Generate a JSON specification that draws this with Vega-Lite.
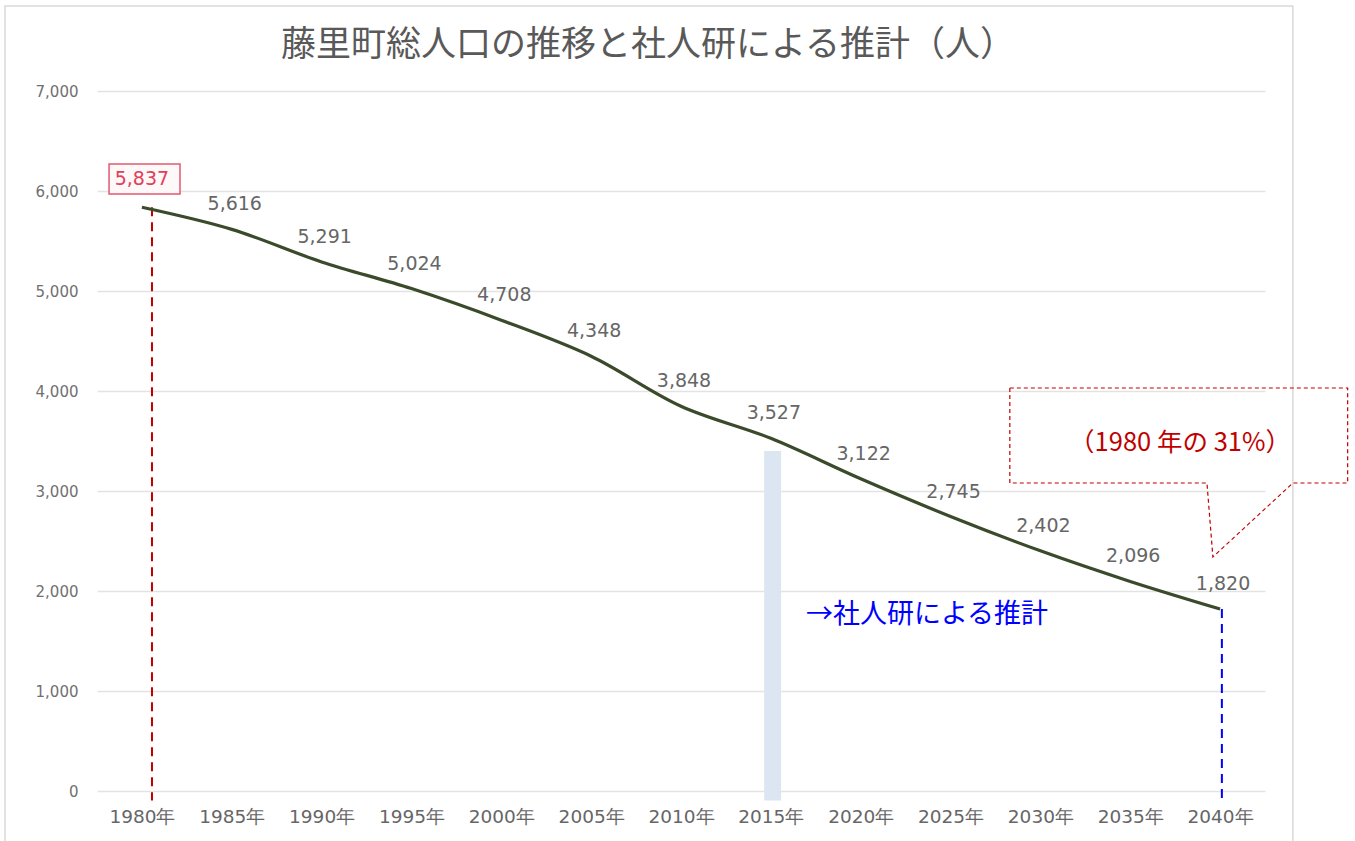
{
  "$schema": "https://vega.github.io/schema/vega-lite/v6.json",
  "width": 1168,
  "height": 700,
  "autosize": "none",
  "padding": {"left": 97, "top": 91, "right": 90, "bottom": 50},
  "background": "white",
  "config": {
    "view": {"stroke": null},
    "font": "DejaVu Sans"
  },
  "title": {
    "text": "藤里町総人口の推移と社人研による推計（人）",
    "fontSize": 35,
    "fontWeight": "normal",
    "color": "#595959",
    "font": "Noto Sans CJK JP",
    "anchor": "middle",
    "dx": -33,
    "offset": -58
  },
  "datasets": {
    "pop": [
      {"year": 1980, "pop": 5837},
      {"year": 1985, "pop": 5616},
      {"year": 1990, "pop": 5291},
      {"year": 1995, "pop": 5024},
      {"year": 2000, "pop": 4708},
      {"year": 2005, "pop": 4348},
      {"year": 2010, "pop": 3848},
      {"year": 2015, "pop": 3527},
      {"year": 2020, "pop": 3122},
      {"year": 2025, "pop": 2745},
      {"year": 2030, "pop": 2402},
      {"year": 2035, "pop": 2096},
      {"year": 2040, "pop": 1820}
    ],
    "callout": [
      {"o": 1, "x": 2028.3, "y": 4030},
      {"o": 2, "x": 2047.1, "y": 4030},
      {"o": 3, "x": 2047.1, "y": 3080},
      {"o": 4, "x": 2044.05, "y": 3080},
      {"o": 5, "x": 2039.6, "y": 2340},
      {"o": 6, "x": 2039.27, "y": 3080},
      {"o": 7, "x": 2028.3, "y": 3080},
      {"o": 8, "x": 2028.3, "y": 4030}
    ]
  },
  "layer": [
    {
      "data": {"values": [{"x1": 1972.38, "x2": 2044.05, "y1": 7850, "y2": -700}]},
      "mark": {"type": "rect", "fill": null, "stroke": "#d9d9d9", "strokeWidth": 1.5, "clip": false},
      "encoding": {
        "x": {
          "field": "x1",
          "type": "quantitative",
          "scale": {"domain": [1977.5, 2042.5], "nice": false, "zero": false},
          "axis": {
            "values": [1980, 1985, 1990, 1995, 2000, 2005, 2010, 2015, 2020, 2025, 2030, 2035, 2040],
            "labelExpr": "datum.value + '年'",
            "title": null,
            "grid": false,
            "domain": false,
            "ticks": false,
            "labelFlush": false,
            "labelOverlap": false,
            "labelPadding": 16,
            "labelFontSize": 18.5,
            "labelColor": "#666666",
            "labelFont": "DejaVu Sans"
          }
        },
        "x2": {"field": "x2"},
        "y": {
          "field": "y1",
          "type": "quantitative",
          "scale": {"domain": [0, 7000], "nice": false},
          "axis": {
            "values": [0, 1000, 2000, 3000, 4000, 5000, 6000, 7000],
            "labelExpr": "format(datum.value, ',')",
            "title": null,
            "domain": false,
            "ticks": false,
            "grid": true,
            "gridColor": "#e3e3e3",
            "gridWidth": 1.5,
            "labelPadding": 19,
            "labelFontSize": 15,
            "labelColor": "#707070",
            "labelFont": "DejaVu Sans"
          }
        },
        "y2": {"field": "y2"}
      }
    },
    {
      "data": {"values": [{"x": 2015.1, "y": 3400, "y2": -95}]},
      "mark": {"type": "rule", "color": "#dce6f2", "strokeWidth": 17, "clip": false},
      "encoding": {
        "x": {"field": "x", "type": "quantitative"},
        "y": {"field": "y", "type": "quantitative"},
        "y2": {"field": "y2"}
      }
    },
    {
      "data": {"values": [{"x": 1980.56, "y": 5837, "y2": -95}]},
      "mark": {"type": "rule", "color": "#c00000", "strokeWidth": 2, "strokeDash": [9, 6], "clip": false},
      "encoding": {
        "x": {"field": "x", "type": "quantitative"},
        "y": {"field": "y", "type": "quantitative"},
        "y2": {"field": "y2"}
      }
    },
    {
      "data": {"values": [{"x": 2040.1, "y": 1820, "y2": -95}]},
      "mark": {"type": "rule", "color": "#0000ff", "strokeWidth": 2, "strokeDash": [9, 6], "clip": false},
      "encoding": {
        "x": {"field": "x", "type": "quantitative"},
        "y": {"field": "y", "type": "quantitative"},
        "y2": {"field": "y2"}
      }
    },
    {
      "data": {"name": "pop"},
      "mark": {"type": "line", "color": "#3a4a2a", "strokeWidth": 3.2, "interpolate": "catmull-rom"},
      "encoding": {
        "x": {"field": "year", "type": "quantitative"},
        "y": {"field": "pop", "type": "quantitative"}
      }
    },
    {
      "data": {"name": "pop"},
      "transform": [{"filter": "datum.year > 1980"}],
      "mark": {"type": "text", "dy": -25, "dx": 3, "fontSize": 19, "color": "#666666", "font": "DejaVu Sans"},
      "encoding": {
        "x": {"field": "year", "type": "quantitative"},
        "y": {"field": "pop", "type": "quantitative"},
        "text": {"field": "pop", "type": "quantitative", "format": ","}
      }
    },
    {
      "data": {"values": [{"x1": 1978.17, "x2": 1982.12, "y1": 6270, "y2": 5970}]},
      "mark": {"type": "rect", "fill": "#fff8f9", "stroke": "#e05a70", "strokeWidth": 1.5},
      "encoding": {
        "x": {"field": "x1", "type": "quantitative"},
        "x2": {"field": "x2"},
        "y": {"field": "y1", "type": "quantitative"},
        "y2": {"field": "y2"}
      }
    },
    {
      "data": {"name": "pop"},
      "transform": [{"filter": "datum.year == 1980"}],
      "mark": {"type": "text", "dy": -28, "dx": 0, "fontSize": 19, "color": "#e0405a", "font": "DejaVu Sans"},
      "encoding": {
        "x": {"field": "year", "type": "quantitative"},
        "y": {"field": "pop", "type": "quantitative"},
        "text": {"field": "pop", "type": "quantitative", "format": ","}
      }
    },
    {
      "data": {"values": [{"x": 2016.95, "y": 1760, "t": "→社人研による推計"}]},
      "mark": {"type": "text", "align": "left", "baseline": "middle", "fontSize": 27, "color": "#0000ff", "font": "Noto Sans CJK JP"},
      "encoding": {
        "x": {"field": "x", "type": "quantitative"},
        "y": {"field": "y", "type": "quantitative"},
        "text": {"field": "t"}
      }
    },
    {
      "data": {"name": "callout"},
      "mark": {"type": "line", "color": "#c00000", "strokeWidth": 1.2, "strokeDash": [4, 3], "clip": false},
      "encoding": {
        "x": {"field": "x", "type": "quantitative"},
        "y": {"field": "y", "type": "quantitative"},
        "order": {"field": "o"}
      }
    },
    {
      "data": {"values": [{"x": 2037.77, "y": 3480, "t": "（1980 年の 31%）"}]},
      "mark": {"type": "text", "align": "center", "baseline": "middle", "fontSize": 25.5, "color": "#c00000", "font": "Noto Sans CJK JP", "clip": false},
      "encoding": {
        "x": {"field": "x", "type": "quantitative"},
        "y": {"field": "y", "type": "quantitative"},
        "text": {"field": "t"}
      }
    }
  ]
}
